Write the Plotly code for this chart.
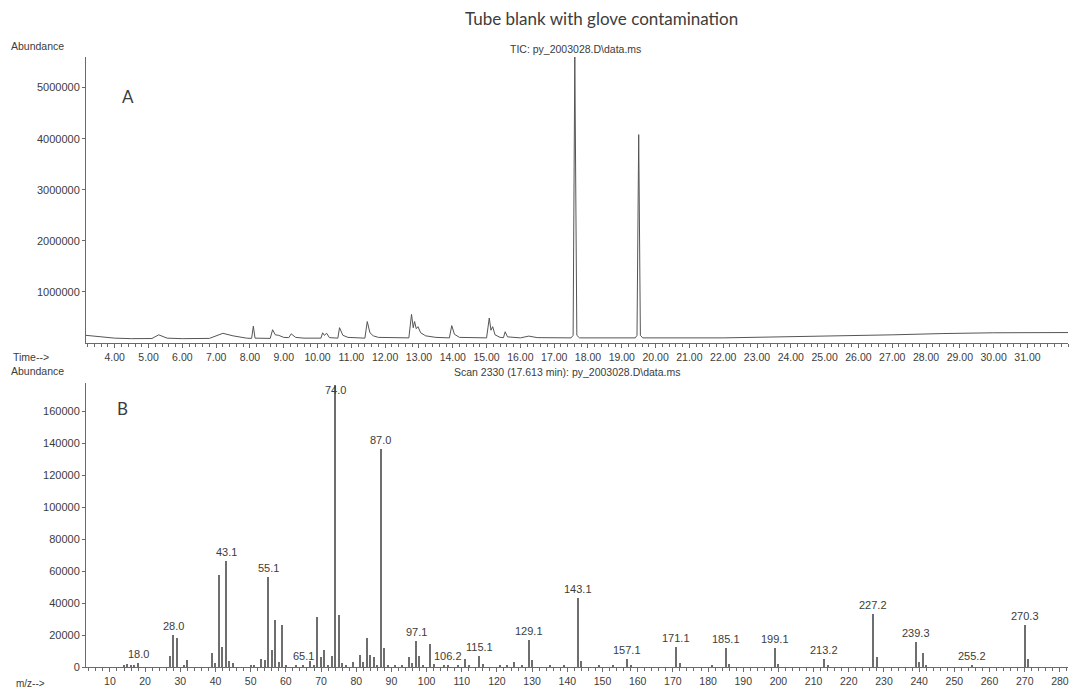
import plotly.graph_objects as go

# ---------------- Data ----------------
# Panel A: total ion chromatogram (time in min, abundance)
tic_time = [3.15, 3.6, 4.0, 4.5, 5.1, 5.3, 5.55, 6.0, 6.8, 7.2, 7.5, 7.9,
            8.05, 8.1, 8.15, 8.6, 8.67, 8.75, 8.85, 9.0, 9.15, 9.22, 9.35, 9.6,
            10.1, 10.15, 10.2, 10.27, 10.35, 10.6, 10.65, 10.75, 10.9,
            11.4, 11.47, 11.55, 11.65, 11.8,
            12.7, 12.78, 12.83, 12.87, 12.92, 12.97, 13.05, 13.2, 13.5,
            13.9, 13.97, 14.05, 14.2,
            15.0, 15.08, 15.13, 15.18, 15.25, 15.4, 15.5, 15.55, 15.62,
            16.0, 16.25, 16.5,
            17.5, 17.56, 17.61, 17.67, 17.75,
            19.4, 19.45, 19.50, 19.55, 19.62,
            22.0, 25.0, 27.0, 28.5, 30.0, 32.3]
tic_abund = [150000, 120000, 95000, 85000, 88000, 160000, 95000, 85000, 90000, 190000, 140000, 95000,
             90000, 330000, 95000, 90000, 260000, 160000, 150000, 110000, 105000, 180000, 110000, 95000,
             95000, 200000, 150000, 190000, 105000, 95000, 300000, 150000, 110000,
             95000, 420000, 200000, 140000, 110000,
             100000, 560000, 300000, 420000, 280000, 320000, 200000, 140000, 110000,
             100000, 340000, 170000, 110000,
             100000, 490000, 250000, 320000, 160000, 110000, 105000, 220000, 120000,
             100000, 135000, 105000,
             100000, 150000, 5600000, 150000, 100000,
             100000, 150000, 4080000, 150000, 100000,
             100000, 130000, 160000, 185000, 200000, 205000]
tic_ticks = list(range(4, 32))
tic_yticks = [1000000, 2000000, 3000000, 4000000, 5000000]

# Panel B: mass spectrum at scan 2330 (m/z, abundance)
ms_mz = [14, 15, 16, 17, 18, 27, 28, 29, 31, 32, 39, 40, 41, 42, 43, 44, 45, 50, 51,
         53, 54, 55, 56, 57, 58, 59, 60, 63, 65, 67, 68, 69, 70, 71, 72, 73, 74, 75,
         76, 77, 79, 81, 82, 83, 84, 85, 86, 87, 88, 89, 91, 93, 95, 96, 97, 98, 99,
         101, 102, 105, 106, 109, 111, 112, 115, 116, 121, 123, 125, 127, 129, 130,
         135, 139, 143, 144, 149, 153, 157, 158, 171, 172, 181, 185, 186, 199, 200,
         213, 214, 227, 228, 239, 240, 241, 242, 255, 270, 271]
ms_abund = [1200, 1800, 900, 800, 2500, 7000, 20000, 18000, 1200, 4500, 9000, 2500, 57500, 12500, 66000, 3500, 2500, 800, 1000,
            5000, 4500, 56000, 10500, 29500, 3000, 26000, 1000, 800, 1200, 3500, 1500, 31500, 6000, 10500, 1500, 7000, 176000, 32500,
            2500, 1500, 3000, 7500, 3000, 18000, 7500, 6000, 1500, 136000, 12000, 1500, 1000, 1500, 6000, 2500, 16500, 7000, 1500,
            14500, 2000, 1000, 1500, 1200, 5000, 1200, 7000, 2000, 1500, 1000, 3000, 1000, 17000, 4500,
            1200, 1000, 43000, 3500, 800, 1000, 5000, 1200, 12500, 2500, 1000, 12000, 2000, 12000, 2000,
            5000, 1000, 33000, 6000, 15500, 3000, 9000, 1500, 1500, 26500, 5000]
ms_label_mz = [18, 28, 43, 55, 65, 74, 87, 97, 106, 115, 129, 143, 157, 171, 185, 199, 213, 227, 239, 255, 270]
ms_label_text = ["18.0", "28.0", "43.1", "55.1", "65.1", "74.0", "87.0", "97.1", "106.2", "115.1", "129.1",
                 "143.1", "157.1", "171.1", "185.1", "199.1", "213.2", "227.2", "239.3", "255.2", "270.3"]
ms_ticks = list(range(10, 281, 10))
ms_yticks = list(range(0, 160001, 20000))

# ---------------- Figure ----------------
W, H = 1071, 691
LINE = "#6a6a6a"
TXT = "#3c3c3c"
AX_FONT = dict(family="Arial, Liberation Sans, sans-serif", size=11, color=TXT)

def px(x):
    return x / W

def py(y):
    return 1 - y / H

fig = go.Figure()
fig.add_trace(go.Scatter(x=tic_time, y=tic_abund, mode="lines",
                         line=dict(color="#555555", width=1), xaxis="x", yaxis="y",
                         showlegend=False, hoverinfo="skip"))
fig.add_trace(go.Bar(x=ms_mz, y=ms_abund, width=0.32, marker=dict(color="#6e6e6e", line=dict(width=0)),
                     xaxis="x2", yaxis="y2", showlegend=False, hoverinfo="skip"))

annotations = []
abund_of = dict(zip(ms_mz, ms_abund))
for m, t in zip(ms_label_mz, ms_label_text):
    if m == 74:
        annotations.append(dict(x=m, y=173000, xref="x2", yref="y2", text=t, showarrow=False,
                                yanchor="middle", font=AX_FONT))
    else:
        annotations.append(dict(x=m, y=abund_of[m], xref="x2", yref="y2", text=t, showarrow=False,
                                yanchor="bottom", yshift=1, font=AX_FONT))

def txt(x, y, s, size=10.5, anchor="left", family="Arial, Liberation Sans, sans-serif"):
    annotations.append(dict(x=px(x), y=py(y), xref="paper", yref="paper", text=s, showarrow=False,
                            xanchor=anchor, yanchor="middle",
                            font=dict(family=family, size=size, color=TXT)))

txt(601, 18, "Tube blank with glove contamination", size=17, anchor="center", family="Lato, Open Sans, sans-serif")
txt(9, 46, "Abundance")
txt(575, 49, "TIC: py_2003028.D\\data.ms", anchor="center")
txt(128, 96, "A", size=17, anchor="center", family="Lato, Open Sans, sans-serif")
txt(11, 357, "Time-->")
txt(9, 371, "Abundance")
txt(567, 372, "Scan 2330 (17.613 min): py_2003028.D\\data.ms", anchor="center")
txt(122, 408, "B", size=17, anchor="center", family="Lato, Open Sans, sans-serif")
txt(14, 683, "m/z-->", size=10)

xdom = [px(86), px(1068)]
axis_common = dict(showline=True, linecolor=LINE, linewidth=1, showgrid=False, zeroline=False,
                   ticks="outside", tickcolor=LINE, tickfont=AX_FONT, automargin=False, fixedrange=True)

fig.update_layout(
    width=W, height=H,
    margin=dict(l=0, r=0, t=0, b=0),
    paper_bgcolor="white", plot_bgcolor="white",
    bargap=0,
    annotations=annotations,
    xaxis=dict(axis_common, domain=xdom, anchor="y", range=[3.15, 32.2],
               tickmode="array", tickvals=tic_ticks, ticktext=[f"{v:.2f}" for v in tic_ticks],
               ticklen=4, tickfont=dict(AX_FONT, size=10.5),
               minor=dict(dtick=0.2, tick0=0, ticks="outside", ticklen=3, tickcolor=LINE)),
    yaxis=dict(axis_common, domain=[py(343), py(57)], anchor="x", range=[0, 5600000],
               tickmode="array", tickvals=tic_yticks, ticktext=[str(v) for v in tic_yticks], ticklen=3),
    xaxis2=dict(axis_common, domain=xdom, anchor="y2", range=[3.2, 282.3],
                tickmode="array", tickvals=ms_ticks, ticktext=[str(v) for v in ms_ticks],
                ticklen=4, tickfont=dict(AX_FONT, size=10.5),
                minor=dict(dtick=2, tick0=0, ticks="outside", ticklen=3, tickcolor=LINE)),
    yaxis2=dict(axis_common, domain=[py(667), py(383)], anchor="x2", range=[0, 177500],
                tickmode="array", tickvals=ms_yticks, ticktext=[str(v) for v in ms_yticks], ticklen=3),
)

fig.write_html("out.html", config={"displayModeBar": False},
               post_script="document.body.style.margin='0';document.body.style.overflow='hidden';")
